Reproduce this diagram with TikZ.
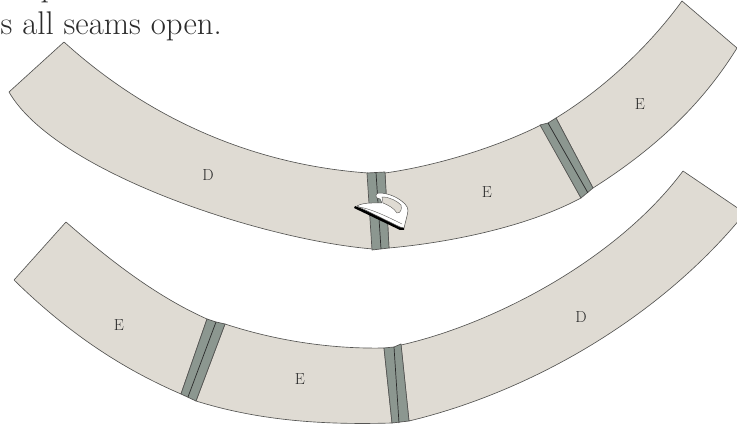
\documentclass[tikz,border=0pt]{standalone}
\definecolor{cloth}{HTML}{DFDBD3}
\definecolor{seam}{HTML}{8C9790}
\definecolor{ink}{HTML}{2B2B2B}
\definecolor{edge}{HTML}{555553}
\tikzset{
  cloth piece/.style={fill=cloth,draw=edge,line width=0.65pt,line join=round},
  seam band/.style={fill=seam,draw=edge,line width=0.7pt,line join=round},
  seam line/.style={draw=ink,line width=0.7pt},
  piece label/.style={text=ink,font=\fontsize{16}{18}\selectfont,inner sep=0pt},
  heading/.style={text=ink,font=\fontsize{32.8}{36}\selectfont,inner sep=0pt}
}
\begin{document}
\begin{tikzpicture}[x=1pt,y=-1pt]
\useasboundingbox (0,0) rectangle (737,427);
\clip (0,0) rectangle (737,427);
% title
\node[heading,anchor=base east] (title) at (222,35) {s all seams open.};
\node[heading,anchor=base] (pp) at (49,-3) {p};
% top band: D
\draw[cloth piece] (64,42) .. controls (150,120) and (255,165) .. (368,173)
  -- (373,249) .. controls (262,240) and (55,172) .. (9,92) -- cycle;
% top band: middle E
\draw[cloth piece] (385,173) .. controls (435,166) and (495,148) .. (541,125)
  -- (581,198) .. controls (525,228) and (445,243) .. (389,248) -- cycle;
% top band: right E
\draw[cloth piece] (556,118) .. controls (605,88) and (650,45) .. (682,1)
  -- (737,48) .. controls (700,108) and (650,152) .. (593,188) -- cycle;
% top band seams
\draw[seam band] (367,173) -- (385,172) -- (389,248) -- (372,250) -- cycle;
\draw[seam line] (376,172.5) -- (381,249);
\draw[seam band] (540,125) -- (548,123) -- (556,118) -- (593,188) -- (581,198) -- cycle;
\draw[seam line] (548,123) -- (588,193);
% bottom band: left E
\draw[cloth piece] (66,222) .. controls (115,265) and (160,298) .. (207,319)
  -- (181,394) .. controls (125,370) and (70,335) .. (14,280) -- cycle;
% bottom band: middle E
\draw[cloth piece] (225,324) .. controls (280,342) and (335,349) .. (384,348)
  -- (392,423) .. controls (325,425) and (260,421) .. (196,401) -- cycle;
% bottom band: D
\draw[cloth piece] (401,345) .. controls (490,325) and (615,262) .. (683,171)
  -- (745,213) .. controls (660,318) and (530,392) .. (409,421) -- cycle;
% bottom band seams
\draw[seam band] (207,319) -- (216,322) -- (225,324) -- (196,401) -- (181,394) -- cycle;
\draw[seam line] (216,322) -- (188,397);
\draw[seam band] (384,348) -- (394,347) -- (401,344) -- (409,421) -- (392,423) -- cycle;
\draw[seam line] (394,347) -- (399,423);
% iron
\fill[black] (355,206) -- (404,226) -- (404,230) -- (400,230) -- (354,208) -- cycle;
\draw[fill=white,draw=edge,line width=0.5pt,line join=round]
  (357,206) .. controls (360,204) and (366,203) .. (372,203)
  -- (382,203) -- (380,199) -- (377,198) .. controls (375,196) and (376,193) .. (379,193)
  .. controls (388,193) and (398,197) .. (405,204)
  .. controls (409,208) and (408,212) .. (407,216)
  -- (404,228) -- (400,227) -- cycle;
\fill[cloth,draw=edge,line width=0.4pt] (382,197) .. controls (390,197) and (397,201) .. (401,205)
  .. controls (402,209) and (401,213) .. (397,213)
  .. controls (394,208) and (388,205) .. (383,203) -- cycle;
\draw[edge,line width=0.4pt] (359,207) .. controls (372,209) and (390,218) .. (402,224);
% labels
\node[piece label] (d1) at (208,175) {D};
\node[piece label] (e1) at (487,192) {E};
\node[piece label] (e2) at (640,104) {E};
\node[piece label] (e3) at (119,325) {E};
\node[piece label] (e4) at (300,379) {E};
\node[piece label] (d2) at (581,317) {D};
\end{tikzpicture}
\end{document}
